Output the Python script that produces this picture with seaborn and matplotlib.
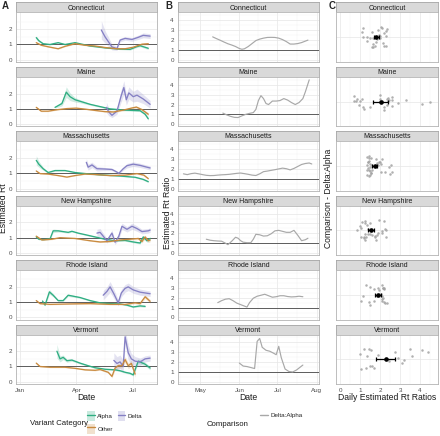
import numpy as np
import pandas as pd
import matplotlib
matplotlib.use('Agg')
import matplotlib.pyplot as plt
from matplotlib.lines import Line2D
from matplotlib.patches import Patch
import seaborn as sns

STATES = ['Connecticut', 'Maine', 'Massachusetts', 'New Hampshire', 'Rhode Island', 'Vermont']
VARIANTS = ['Alpha', 'Delta', 'Other']
START = pd.Timestamp('2021-01-01')

# Panel A: (days since 2021-01-01, estimated Rt, ribbon half width)
ct_alpha = [(26, 1.45, .12), (30, 1.25, .08), (37, 1.05, .05), (48, 1.0, .04), (61, 1.12, .04), (72, 1.0, .03),
            (88, 1.12, .03), (112, 0.9, .03), (136, 0.78, .03), (160, 0.7, .04), (176, 0.68, .05),
            (186, 0.85, .06), (192, 0.92, .07), (205, 0.75, .08)]
ct_other = [(26, 1.12, .04), (34, 0.95, .03), (45, 0.85, .03), (61, 0.72, .03), (72, 0.88, .03), (88, 1.05, .03),
            (104, 0.95, .03), (120, 0.9, .03), (136, 0.8, .03), (155, 0.72, .04), (168, 0.72, .04),
            (181, 0.82, .05), (195, 1.02, .06), (205, 1.05, .07)]
ct_delta = [(130, 1.95, .6), (136, 1.5, .4), (147, 0.84, .2), (155, 0.73, .12), (160, 1.29, .12), (168, 1.4, .12),
            (179, 1.33, .12), (189, 1.47, .14), (197, 1.6, .16), (208, 1.55, .16)]

me_alpha = [(56, 1.1, .05), (67, 1.35, .15), (74, 2.1, .35), (80, 1.8, .25), (88, 1.6, .15), (96, 1.5, .1),
            (112, 1.3, .06), (128, 1.15, .05), (144, 1.0, .05), (168, 0.92, .05), (192, 0.88, .06),
            (200, 0.65, .08), (205, 0.35, .1)]
me_other = [(26, 1.1, .05), (34, 0.85, .04), (45, 0.85, .03), (60, 0.95, .03), (75, 1.02, .03), (90, 1.05, .03),
            (105, 0.98, .03), (120, 0.9, .03), (136, 0.82, .04), (150, 0.8, .04), (165, 0.92, .05),
            (178, 1.05, .06), (186, 1.12, .07), (195, 0.95, .08), (205, 0.65, .1)]
me_delta = [(138, 1.1, .35), (142, 0.8, .25), (147, 0.58, .15), (155, 0.85, .2), (162, 1.9, .4), (166, 2.4, .45),
            (170, 1.6, .35), (174, 2.05, .4), (181, 1.8, .35), (187, 1.9, .4), (197, 1.65, .3), (208, 1.3, .25)]

ma_alpha = [(26, 1.85, .3), (30, 1.6, .2), (37, 1.3, .1), (45, 1.05, .05), (56, 1.18, .04), (72, 1.18, .03),
            (88, 1.05, .03), (112, 0.95, .03), (136, 0.88, .03), (160, 0.82, .03), (184, 0.74, .04),
            (197, 0.6, .05), (205, 0.45, .06)]
ma_other = [(26, 1.15, .04), (32, 0.98, .03), (45, 0.95, .03), (61, 0.85, .02), (75, 0.75, .02), (88, 0.85, .02),
            (104, 0.95, .02), (120, 0.92, .02), (144, 0.85, .02), (168, 0.88, .03), (187, 0.98, .04),
            (198, 0.88, .05), (205, 0.65, .06)]
ma_delta = [(106, 1.72, .25), (109, 1.4, .2), (115, 1.55, .18), (123, 1.3, .15), (136, 1.28, .1), (147, 1.25, .08),
            (154, 1.1, .08), (158, 1.0, .08), (165, 1.3, .1), (171, 1.5, .15), (181, 1.6, .15),
            (192, 1.52, .14), (203, 1.4, .13), (208, 1.35, .13)]

nh_alpha = [(26, 1.05, .06), (30, 0.9, .05), (38, 0.88, .04), (48, 0.92, .04), (53, 1.45, .12), (61, 1.45, .08),
            (69, 1.4, .06), (77, 1.35, .05), (83, 1.42, .05), (93, 1.3, .04), (104, 1.2, .04), (120, 1.05, .04),
            (136, 0.9, .04), (152, 0.8, .04), (168, 0.82, .05), (181, 0.72, .06), (192, 0.65, .07),
            (197, 1.05, .1), (203, 0.8, .1), (208, 0.95, .12)]
nh_other = [(26, 1.1, .05), (35, 0.85, .04), (51, 0.9, .03), (64, 1.0, .03), (88, 0.95, .03), (112, 0.8, .03),
            (128, 0.72, .04), (144, 0.75, .04), (160, 0.85, .05), (176, 0.9, .06), (189, 0.95, .08),
            (195, 0.75, .1), (200, 1.05, .12), (205, 0.8, .12), (208, 0.85, .12)]
nh_delta = [(123, 1.3, .25), (128, 1.35, .25), (133, 1.1, .2), (139, 0.8, .15), (147, 1.3, .2), (152, 0.7, .15),
            (158, 1.1, .2), (163, 1.75, .2), (171, 1.55, .18), (179, 1.75, .2), (187, 1.6, .18),
            (195, 1.4, .15), (205, 1.45, .15), (208, 1.5, .15)]

ri_alpha = [(36, 1.07, .06), (40, 0.8, .05), (47, 1.67, .15), (53, 1.45, .1), (61, 1.1, .06), (69, 1.1, .05),
            (77, 1.45, .08), (96, 1.3, .05), (112, 1.1, .04), (128, 0.95, .04), (144, 0.9, .04),
            (160, 0.88, .04), (171, 0.8, .05), (181, 0.68, .05), (192, 0.75, .06), (200, 0.72, .07)]
ri_other = [(26, 1.1, .05), (32, 0.9, .04), (48, 0.85, .03), (80, 0.88, .03), (112, 0.9, .03), (144, 0.85, .03),
            (168, 0.85, .04), (184, 0.95, .06), (192, 0.9, .08), (200, 1.35, .12), (208, 1.05, .12)]
ri_delta = [(133, 1.45, .3), (139, 1.7, .3), (144, 2.0, .35), (150, 1.55, .3), (157, 0.95, .2), (162, 1.6, .25),
            (168, 1.9, .25), (173, 2.0, .25), (181, 1.8, .22), (192, 1.65, .2), (208, 1.55, .18)]

vt_alpha = [(59, 2.0, .45), (64, 1.5, .2), (69, 1.6, .15), (75, 1.38, .1), (83, 1.42, .08), (96, 1.22, .06),
            (109, 1.05, .05), (120, 0.92, .05), (136, 0.82, .05), (152, 0.78, .05), (160, 0.72, .06),
            (168, 0.62, .06), (176, 0.55, .07), (181, 0.45, .08), (189, 1.35, .15), (200, 1.15, .12),
            (208, 0.9, .12)]
vt_other = [(26, 1.22, .05), (32, 1.0, .04), (48, 0.95, .03), (72, 0.95, .03), (88, 0.88, .03), (104, 0.78, .03),
            (120, 0.75, .04), (128, 0.8, .04), (141, 0.62, .06), (147, 0.35, .1), (152, 0.9, .12),
            (157, 1.05, .15), (163, 1.05, .15), (168, 1.45, .2), (173, 1.05, .2), (178, 1.2, .2), (184, 0.5, .2)]
vt_delta = [(150, 1.4, .5), (155, 1.2, .45), (160, 1.3, .45), (165, 1.0, .4), (168, 2.95, .5), (173, 1.9, .5),
            (178, 1.5, .35), (184, 1.35, .3), (192, 1.3, .25), (200, 1.5, .2), (208, 1.55, .2)]

# Panel B / C: (days since 2021-01-01, Delta:Alpha Rt ratio)
ct_ratio = [(130, 2.33), (133, 2.15), (136, 1.98), (139, 1.8), (142, 1.63), (145, 1.5), (148, 1.35), (151, 1.15),
            (153, 1.07), (155, 1.12), (158, 1.35), (161, 1.65), (164, 1.95), (167, 2.1), (170, 2.2), (173, 2.27),
            (176, 2.28), (179, 2.27), (182, 2.2), (185, 2.05), (188, 1.85), (191, 1.6), (194, 1.6), (197, 1.65),
            (200, 1.75), (203, 1.9), (205, 2.0)]
me_ratio = [(138, 1.13), (141, 0.95), (144, 0.8), (147, 0.7), (150, 0.68), (153, 0.85), (156, 1.0), (159, 1.1),
            (162, 1.18), (164, 1.5), (166, 2.4), (168, 2.9), (170, 2.6), (172, 2.1), (174, 2.0), (177, 2.35),
            (180, 2.35), (183, 2.4), (186, 2.6), (189, 2.45), (192, 2.2), (195, 2.0), (198, 2.2), (201, 2.6),
            (203, 3.3), (205, 4.1), (206, 4.5)]
ma_ratio = [(107, 1.5), (110, 1.42), (113, 1.52), (116, 1.57), (119, 1.5), (122, 1.42), (125, 1.35), (128, 1.32),
            (131, 1.33), (134, 1.37), (137, 1.4), (140, 1.42), (143, 1.45), (146, 1.5), (149, 1.55), (152, 1.58),
            (155, 1.52), (158, 1.45), (161, 1.37), (164, 1.33), (167, 1.5), (170, 1.72), (173, 1.78), (176, 1.85),
            (179, 1.92), (182, 2.0), (185, 2.08), (188, 2.02), (191, 1.9), (194, 2.05), (197, 2.25), (200, 2.45),
            (203, 2.55), (206, 2.6), (208, 2.5)]
nh_ratio = [(125, 1.4), (128, 1.3), (131, 1.25), (134, 1.22), (137, 1.2), (140, 1.0), (142, 0.85), (145, 1.2),
            (148, 1.6), (150, 1.5), (152, 1.25), (154, 1.1), (157, 1.05), (160, 1.05), (162, 1.4), (164, 1.9),
            (167, 1.85), (170, 1.72), (173, 1.75), (176, 1.95), (179, 2.25), (182, 2.3), (185, 2.2), (188, 2.1),
            (191, 2.1), (194, 2.3), (197, 1.8), (200, 1.25), (203, 1.35), (205, 1.5)]
ri_ratio = [(134, 1.5), (137, 1.7), (140, 1.85), (143, 1.9), (146, 1.7), (149, 1.45), (152, 1.3), (155, 1.15),
            (157, 1.05), (159, 1.5), (162, 1.95), (165, 2.15), (168, 2.25), (171, 2.35), (174, 2.2), (177, 2.05),
            (180, 2.1), (183, 2.2), (186, 2.2), (189, 2.12), (192, 2.08), (195, 2.1), (198, 2.15), (201, 2.1)]
vt_ratio = [(151, 1.9), (154, 1.6), (157, 1.55), (160, 1.45), (163, 1.35), (165, 4.1), (167, 4.4), (169, 3.5),
            (172, 3.2), (175, 3.1), (178, 2.9), (180, 2.75), (182, 3.6), (184, 2.45), (187, 1.3), (190, 1.05),
            (193, 1.0), (196, 1.2), (199, 1.5), (201, 1.7)]

A_SERIES = {
    'Connecticut': {'Alpha': ct_alpha, 'Delta': ct_delta, 'Other': ct_other},
    'Maine': {'Alpha': me_alpha, 'Delta': me_delta, 'Other': me_other},
    'Massachusetts': {'Alpha': ma_alpha, 'Delta': ma_delta, 'Other': ma_other},
    'New Hampshire': {'Alpha': nh_alpha, 'Delta': nh_delta, 'Other': nh_other},
    'Rhode Island': {'Alpha': ri_alpha, 'Delta': ri_delta, 'Other': ri_other},
    'Vermont': {'Alpha': vt_alpha, 'Delta': vt_delta, 'Other': vt_other},
}
RATIOS = {'Connecticut': ct_ratio, 'Maine': me_ratio, 'Massachusetts': ma_ratio,
          'New Hampshire': nh_ratio, 'Rhode Island': ri_ratio, 'Vermont': vt_ratio}

PALETTE = {'Alpha': '#2fae82', 'Delta': '#8580c4', 'Other': '#c98a3e'}
RATIO_COLOR = '#a8a8a8'
TXT = '#1a1a1a'

# long tables
rows = []
for st, d in A_SERIES.items():
    for v, pts in d.items():
        for day_n, rt, hw in pts:
            rows.append((st, v, day_n, rt, rt - hw, rt + hw))
df_a = pd.DataFrame(rows, columns=['state', 'variant', 'day', 'rt', 'lo', 'hi'])
df_a['date'] = START + pd.to_timedelta(df_a['day'], unit='D')

rows = []
for st, pts in RATIOS.items():
    for day_n, r in pts:
        rows.append((st, 'Delta:Alpha', day_n, r))
df_b = pd.DataFrame(rows, columns=['state', 'comparison', 'day', 'ratio'])
df_b['date'] = START + pd.to_timedelta(df_b['day'], unit='D')

sns.set_theme(style='white')
plt.rcParams['font.family'] = ['Liberation Sans', 'DejaVu Sans']
np.random.seed(7)

W, H = 440, 436
fig = plt.figure(figsize=(W / 100, H / 100), dpi=100)


def box(x0, y0, x1, y1):
    return [x0 / W, 1 - y1 / H, (x1 - x0) / W, (y1 - y0) / H]


COLS = {'A': (16, 157), 'B': (178, 319), 'C': (336, 438)}
PITCH = 64.4


def day(n):
    return START + pd.Timedelta(days=n)


def style_axes(ax, bottom):
    for s in ax.spines.values():
        s.set_color('#b3b3b3')
        s.set_linewidth(0.6)
    ax.grid(which='major', color='#e6e6e6', lw=0.5)
    ax.grid(which='minor', color='#f3f3f3', lw=0.35)
    ax.set_axisbelow(True)
    ax.tick_params(which='major', length=2, width=0.5, color='#b3b3b3', labelsize=4.5,
                   labelcolor='#4d4d4d', pad=1)
    ax.tick_params(which='minor', length=0)
    if not bottom:
        ax.tick_params(axis='x', which='major', length=0, labelbottom=False)
    ax.set_xlabel('')
    ax.set_ylabel('')


def strip(col, i, label):
    x0, x1 = COLS[col]
    top = 2.5 + PITCH * i
    sax = fig.add_axes(box(x0, top, x1, top + 10))
    sax.set_facecolor('#d9d9d9')
    sax.set_xticks([])
    sax.set_yticks([])
    for s in sax.spines.values():
        s.set_color('#a6a6a6')
        s.set_linewidth(0.6)
    sax.text(0.5, 0.45, label, ha='center', va='center', fontsize=5, color=TXT,
             transform=sax.transAxes)


def panel(col, i):
    x0, x1 = COLS[col]
    top = 12.5 + PITCH * i
    return fig.add_axes(box(x0, top, x1, top + 49.5))


for i, st in enumerate(STATES):
    bottom = i == len(STATES) - 1

    # Panel A
    strip('A', i, st)
    ax = panel('A', i)
    sub = df_a[df_a['state'] == st]
    for v in ['Alpha', 'Other', 'Delta']:
        g = sub[sub['variant'] == v]
        ax.fill_between(g['date'], g['lo'], g['hi'], color=PALETTE[v], alpha=0.22, lw=0, zorder=2)
    ax.axhline(1, color='#5c5c5c', lw=0.7, zorder=1.5)
    sns.lineplot(data=sub, x='date', y='rt', hue='variant', palette=PALETTE, ax=ax,
                 legend=False, linewidth=0.95, zorder=3)
    ax.set_xlim(day(-6.4), day(219))
    ax.set_ylim(-0.15, 3.1)
    ax.set_xticks([day(0), day(90), day(181)])
    ax.set_xticklabels(['Jan', 'Apr', 'Jul'])
    ax.set_xticks([day(45), day(135.5)], minor=True)
    ax.set_yticks([0, 1, 2])
    ax.set_yticks([0.5, 1.5, 2.5], minor=True)
    style_axes(ax, bottom)

    # Panel B
    strip('B', i, st)
    ax = panel('B', i)
    sb = df_b[df_b['state'] == st]
    ax.axhline(1, color='#5c5c5c', lw=0.7, zorder=1.5)
    sns.lineplot(data=sb, x='date', y='ratio', color=RATIO_COLOR, ax=ax, linewidth=0.85, zorder=3)
    ax.set_xlim(day(102.7), day(213.7))
    ax.set_ylim(-0.22, 4.8)
    ax.set_xticks([day(120), day(151), day(181), day(212)])
    ax.set_xticklabels(['May', 'Jun', 'Jul', 'Aug'])
    ax.set_xticks([day(104.5), day(135.5), day(166), day(196.5)], minor=True)
    ax.set_yticks([0, 1, 2, 3, 4])
    ax.set_yticks([0.5, 1.5, 2.5, 3.5, 4.5], minor=True)
    style_axes(ax, bottom)

    # Panel C: daily ratios with mean and 95% CI
    strip('C', i, st)
    ax = panel('C', i)
    sns.stripplot(data=sb, x='ratio', y='comparison', ax=ax, color='#a3a3a3', size=1.8,
                  jitter=0.25, alpha=0.85, linewidth=0, zorder=2)
    vals = sb['ratio'].to_numpy()
    m = vals.mean()
    ci = 1.96 * vals.std(ddof=1) / np.sqrt(len(vals))
    ax.errorbar([m], [0], xerr=[ci], fmt='o', color='black', ms=2.3, capsize=1.6,
                elinewidth=0.9, capthick=0.9, zorder=4)
    ax.set_xlim(-0.22, 4.9)
    ax.set_ylim(0.6, -0.6)
    ax.set_xticks([0, 1, 2, 3, 4])
    ax.set_xticklabels(['0', '1', '2', '3', '4'])
    ax.set_xticks([0.5, 1.5, 2.5, 3.5, 4.5], minor=True)
    ax.set_yticks([0])
    ax.set_yticklabels([''])
    style_axes(ax, bottom)

# panel letters and axis titles
for letter, x in [('A', 2), ('B', 165), ('C', 329)]:
    fig.text(x / W, 1 - 6 / H, letter, fontsize=7, fontweight='bold', ha='left', va='center')

fig.text(86 / W, 1 - 397 / H, 'Date', fontsize=6.2, ha='center', va='center', color=TXT)
fig.text(248 / W, 1 - 397 / H, 'Date', fontsize=6.2, ha='center', va='center', color=TXT)
fig.text(387 / W, 1 - 397 / H, 'Daily Estimated Rt Ratios', fontsize=6.2, ha='center', va='center',
         color=TXT)
fig.text(4 / W, 1 - 208 / H, 'Estimated Rt', fontsize=6.2, rotation=90, ha='center', va='center',
         color=TXT)
fig.text(167 / W, 1 - 213 / H, 'Estimated Rt Ratio', fontsize=6.2, rotation=90, ha='center', va='center',
         color=TXT)
fig.text(328 / W, 1 - 198 / H, 'Comparison - Delta:Alpha', fontsize=6.2, rotation=90, ha='center',
         va='center', color=TXT)

# legends
fig.text(30 / W, 1 - 423 / H, 'Variant Category', fontsize=5.6, ha='left', va='center', color=TXT)
handles = [(Patch(facecolor=PALETTE[v], alpha=0.25, edgecolor='none'),
            Line2D([], [], color=PALETTE[v], lw=1.0)) for v in ['Alpha', 'Other', 'Delta']]
fig.legend(handles, ['Alpha', 'Other', 'Delta'], loc='center left', bbox_to_anchor=(84 / W, 1 - 422.5 / H),
           ncol=2, frameon=False, fontsize=4.5, handlelength=1.2, handleheight=2.0, columnspacing=0.7,
           handletextpad=0.45, labelspacing=0.45, borderpad=0)

fig.text(207 / W, 1 - 424 / H, 'Comparison', fontsize=5.6, ha='left', va='center', color=TXT)
fig.legend([Line2D([], [], color=RATIO_COLOR, lw=1.0)], ['Delta:Alpha'], loc='center left',
           bbox_to_anchor=(257 / W, 1 - 415 / H), frameon=False, fontsize=4.5, handlelength=1.2,
           handletextpad=0.45, borderpad=0)

fig.savefig('out.png', dpi=100)
